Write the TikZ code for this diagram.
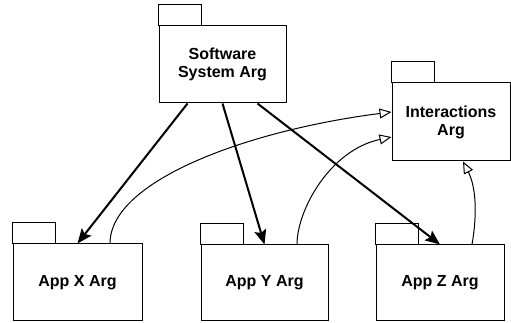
\documentclass[tikz,border=0pt]{standalone}
\usepackage{fontspec}
\setmainfont{Liberation Sans}
\usetikzlibrary{arrows.meta,calc}

\tikzset{
  pkg/.style={draw,line width=.75pt,rectangle,inner sep=0pt,align=center,
    font=\fontsize{12}{13.5}\selectfont\bfseries},
  uses/.style={line width=1.5pt,-{Stealth[length=11pt,width=9pt,inset=2pt]}},
  realizes/.style={line width=.75pt,-{Triangle[open,length=9pt,width=7.5pt]}}
}

\begin{document}
\begin{tikzpicture}[x=.75pt,y=-.75pt]
            \useasboundingbox (0,0) rectangle (511,323);

            \node[pkg,minimum width=127*.75pt,minimum height=77*.75pt] (sw) at (222.5,64.5) {Software\\System Arg};
            \node[pkg,minimum width=118*.75pt,minimum height=78*.75pt] (ia) at (451,122) {Interactions\\Arg};
            \node[pkg,minimum width=129*.75pt,minimum height=77*.75pt] (ax) at (77.5,282.5) {App X Arg};
            \node[pkg,minimum width=127*.75pt,minimum height=76*.75pt] (ay) at (264.5,283) {App Y Arg};
            \node[pkg,minimum width=128*.75pt,minimum height=76*.75pt] (az) at (440,283) {App Z Arg};

            % tabs
            \foreach \p in {sw,ia,ax,ay,az}
              \draw[line width=.75pt] (\p.north west) rectangle ++(43,-21);

            \draw[uses] ($(sw.south)+(-35,0)$) -- (ax.north);
            \draw[uses] (sw.south) -- (ay.north);
            \draw[uses] ($(sw.south)+(35,0)$) -- (az.north);

            \draw[realizes] ($(ax.north)+(32.5,0)$) .. controls (110,180) and (250,130) .. ($(ia.west)+(0,-10)$);
            \draw[realizes] ($(ay.north)+(32.5,0)$) .. controls (297,210) and (330,150) .. ($(ia.west)+(0,15)$);
            \draw[realizes] ($(az.north)+(32,0)$) .. controls (478,210) and (475,185) .. ($(ia.south)+(12,0)$);
\end{tikzpicture}
\end{document}
